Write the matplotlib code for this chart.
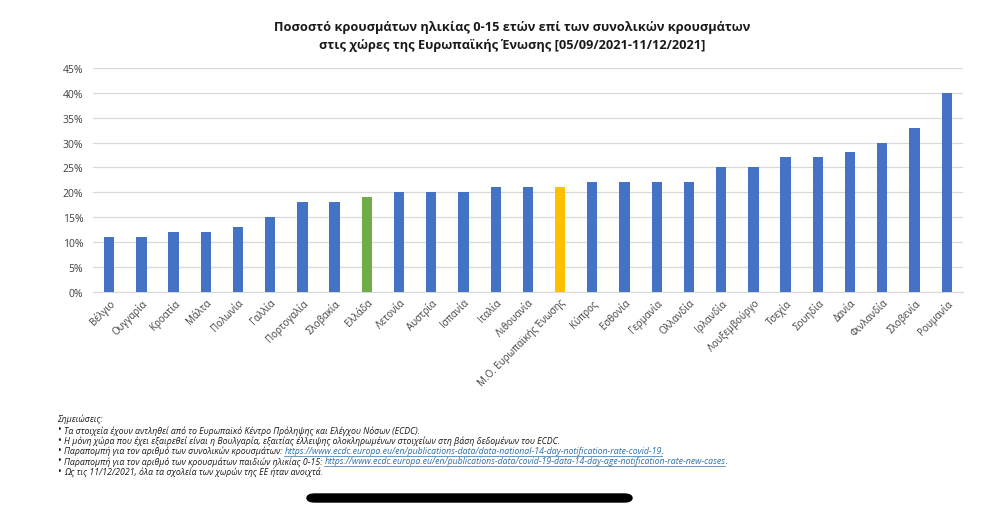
import matplotlib
matplotlib.use('Agg')
import matplotlib.pyplot as plt
from matplotlib.ticker import PercentFormatter
from matplotlib.patches import FancyBboxPatch

plt.rcParams['font.family'] = ['Open Sans', 'DejaVu Sans']

# δεδομένα
countries = ['Βέλγιο', 'Ουγγαρία', 'Κροατία', 'Μάλτα', 'Πολωνία', 'Γαλλία',
             'Πορτογαλία', 'Σλοβακία', 'Ελλάδα', 'Λετονία', 'Αυστρία', 'Ισπανία',
             'Ιταλία', 'Λιθουανία', 'Μ.Ο. Ευρωπαϊκής Ένωσης', 'Κύπρος', 'Εσθονία',
             'Γερμανία', 'Ολλανδία', 'Ιρλανδία', 'Λουξεμβούργο', 'Τσεχία',
             'Σουηδία', 'Δανία', 'Φινλανδία', 'Σλοβενία', 'Ρουμανία']
share = [11, 11, 12, 12, 13, 15, 18, 18, 19, 20, 20, 20, 21, 21, 21, 22, 22,
         22, 22, 25, 25, 27, 27, 28, 30, 33, 40]

BLUE = '#4472C4'
colors = [BLUE] * len(countries)
colors[countries.index('Ελλάδα')] = '#70AD47'
colors[countries.index('Μ.Ο. Ευρωπαϊκής Ένωσης')] = '#FFC000'

title = ('Ποσοστό κρουσμάτων ηλικίας 0-15 ετών επί των συνολικών κρουσμάτων\n'
         'στις χώρες της Ευρωπαϊκής Ένωσης [05/09/2021-11/12/2021]')

notes = [
    [('Τα στοιχεία έχουν αντληθεί από το Ευρωπαϊκό Κέντρο Πρόληψης και Ελέγχου Νόσων (ECDC).', False)],
    [('Η μόνη χώρα που έχει εξαιρεθεί είναι η Βουλγαρία, εξαιτίας έλλειψης ολοκληρωμένων στοιχείων στη βάση δεδομένων του ECDC.', False)],
    [('Παραπομπή για τον αριθμό των συνολικών κρουσμάτων: ', False),
     ('https://www.ecdc.europa.eu/en/publications-data/data-national-14-day-notification-rate-covid-19', True),
     ('.', False)],
    [('Παραπομπή για τον αριθμό των κρουσμάτων παιδιών ηλικίας 0-15: ', False),
     ('https://www.ecdc.europa.eu/en/publications-data/covid-19-data-14-day-age-notification-rate-new-cases', True),
     ('.', False)],
    [('Ως τις 11/12/2021, όλα τα σχολεία των χωρών της ΕΕ ήταν ανοιχτά.', False)],
]

fig = plt.figure(figsize=(9.94, 5.06), dpi=100)
ax = fig.add_axes([0.0936, 0.421, 0.875, 0.443])

x = range(len(countries))
ax.bar(x, share, width=0.32, color=colors, zorder=3)

ax.set_xlim(-0.5, len(countries) - 0.5)
ax.set_ylim(0, 45)
ax.set_yticks(range(0, 46, 5))
ax.yaxis.set_major_formatter(PercentFormatter(decimals=0))
ax.grid(axis='y', color='#d9d9d9', linewidth=0.9, zorder=0)
for s in ['top', 'right', 'left']:
    ax.spines[s].set_visible(False)
ax.spines['bottom'].set_color('#d9d9d9')
ax.tick_params(axis='both', length=0, colors='#404040', labelsize=7.5)
ax.tick_params(axis='y', pad=7)
ax.set_xticks(list(x))
ax.set_xticklabels(countries, rotation=45, ha='right', rotation_mode='anchor',
                   fontsize=7)

fig.text(0.515, 1 - 36 / 506, title, ha='center', va='center', fontsize=9.2,
         fontweight='bold', color='#1a1a1a', linespacing=1.5)

# σημειώσεις
NOTE_FS = 6.3
fig.text(0.057, 1 - 419 / 506, 'Σημειώσεις:', fontsize=NOTE_FS, style='italic',
         va='center', color='#1a1a1a')
fig.canvas.draw()
renderer = fig.canvas.get_renderer()
for i, parts in enumerate(notes):
    y = 1 - (431 + i * 10.3) / 506
    fig.text(0.057, y, '•', fontsize=7, va='center', color='#1a1a1a')
    xpos = 0.064
    for txt, link in parts:
        t = fig.text(xpos, y, txt, fontsize=NOTE_FS, style='italic', va='center',
                     color='#2f6fa8' if link else '#1a1a1a')
        bb = t.get_window_extent(renderer=renderer)
        x0, x1 = bb.x0 / fig.bbox.width, bb.x1 / fig.bbox.width
        if link:
            fig.add_artist(plt.Line2D([x0, x1], [y - 0.011, y - 0.011],
                                      color='#2f6fa8', linewidth=0.5))
        xpos = x1

# μαύρη μπάρα στο κάτω μέρος
bar_h = 8 / 506
fig.add_artist(FancyBboxPatch((307 / 994, 1 - 503 / 506), 325 / 994, bar_h,
                              boxstyle='round,pad=0,rounding_size=0.008',
                              transform=fig.transFigure, color='black'))

fig.savefig('out.png', dpi=100)
